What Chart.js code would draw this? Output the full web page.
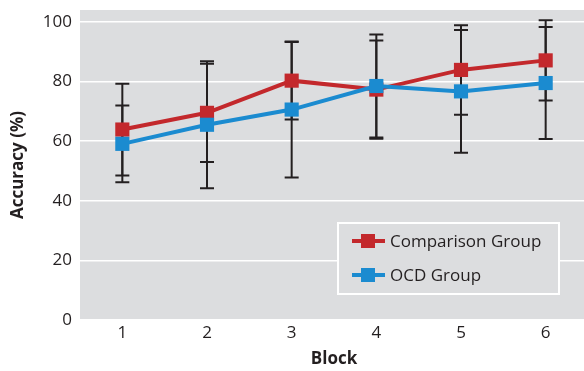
<!DOCTYPE html>
<html>
<head>
<meta charset="utf-8">
<script src="https://cdn.jsdelivr.net/npm/chart.js@4"></script>
<style>
    html, body { margin: 0; padding: 0; background: #ffffff; overflow: hidden; }
    #wrap { width: 598px; height: 371px; }
</style>
</head>
<body>
<div id="wrap"><canvas id="lineChart"></canvas></div>
<script>
// Data
const blocks = ['1', '2', '3', '4', '5', '6'];
const comparisonMean = [63.9, 69.5, 80.3, 77.3, 83.9, 87.1];
const comparisonSd = [15.4, 16.5, 13.0, 16.5, 15.0, 13.5];
const ocdMean = [59.1, 65.5, 70.6, 78.5, 76.7, 79.5];
const ocdSd = [12.9, 21.3, 22.8, 17.3, 20.6, 18.8];
const yTicks = [0, 20, 40, 60, 80, 100];

const red = '#c3282c';
const blue = '#1b8bd0';
const panelGrey = '#dcdddf';
const ink = '#231f20';
const fontName = '"Open Sans", "Noto Sans", sans-serif';

// Grey plot background
const panelBackground = {
    id: 'panelBackground',
    beforeDraw(chart) {
        const { ctx, chartArea } = chart;
        ctx.save();
        ctx.fillStyle = panelGrey;
        ctx.fillRect(chartArea.left, chartArea.top, chartArea.right - chartArea.left, chartArea.bottom - chartArea.top);
        ctx.restore();
    }
};

// Error bars (mean +/- sd), drawn under lines and markers
const errorBars = {
    id: 'errorBars',
    beforeDatasetsDraw(chart) {
        const { ctx } = chart;
        const x = chart.scales.x;
        const y = chart.scales.y;
        const groups = [[comparisonMean, comparisonSd], [ocdMean, ocdSd]];
        ctx.save();
        ctx.strokeStyle = ink;
        ctx.lineWidth = 2;
        groups.forEach(([mean, sd]) => {
            mean.forEach((m, i) => {
                const px = x.getPixelForValue(i);
                const top = y.getPixelForValue(m + sd[i]);
                const bot = y.getPixelForValue(m - sd[i]);
                ctx.beginPath();
                ctx.moveTo(px, top);
                ctx.lineTo(px, bot);
                ctx.moveTo(px - 7, top);
                ctx.lineTo(px + 7, top);
                ctx.moveTo(px - 7, bot);
                ctx.lineTo(px + 7, bot);
                ctx.stroke();
            });
        });
        ctx.restore();
    }
};

// Legend box in the lower right of the panel
const boxLegend = {
    id: 'boxLegend',
    afterDraw(chart) {
        const { ctx } = chart;
        const items = [['Comparison Group', red], ['OCD Group', blue]];
        const left = 338, top = 223, w = 221, h = 71;
        ctx.save();
        ctx.fillStyle = panelGrey;
        ctx.fillRect(left, top, w, h);
        ctx.strokeStyle = '#ffffff';
        ctx.lineWidth = 2;
        ctx.strokeRect(left, top, w, h);
        items.forEach(([label, color], i) => {
            const cy = top + 18 + i * 34;
            ctx.strokeStyle = color;
            ctx.lineWidth = 4;
            ctx.beginPath();
            ctx.moveTo(352, cy);
            ctx.lineTo(385, cy);
            ctx.stroke();
            ctx.fillStyle = color;
            ctx.fillRect(361, cy - 7, 14, 14);
            ctx.fillStyle = ink;
            ctx.font = '17px ' + fontName;
            ctx.textBaseline = 'middle';
            ctx.fillText(label, 390, cy + 1);
        });
        ctx.restore();
    }
};

const lineCtx = document.getElementById('lineChart').getContext('2d');
const lineChartInstance = new Chart(lineCtx, {
    type: 'line',
    data: {
        labels: blocks,
        datasets: [
            {
                label: 'Comparison Group',
                data: comparisonMean,
                borderColor: red,
                backgroundColor: red,
                borderWidth: 4,
                pointStyle: 'rect',
                pointRadius: 10,
                pointBorderWidth: 0,
                order: 1
            },
            {
                label: 'OCD Group',
                data: ocdMean,
                borderColor: blue,
                backgroundColor: blue,
                borderWidth: 4,
                pointStyle: 'rect',
                pointRadius: 10,
                pointBorderWidth: 0,
                order: 0
            }
        ]
    },
    options: {
        responsive: true,
        maintainAspectRatio: false,
        animation: false,
        layout: { padding: { top: 8, right: 0, bottom: 0, left: 0 } },
        plugins: {
            legend: { display: false },
            tooltip: { enabled: false }
        },
        scales: {
            x: {
                type: 'category',
                offset: true,
                afterFit: axis => {
                    axis.height = 51;
                    axis.paddingLeft = 0;
                    axis.paddingRight = 0;
                },
                grid: { display: false, drawTicks: false },
                border: { display: false },
                ticks: { color: ink, font: { family: fontName, size: 17 }, padding: 3 },
                title: { display: true, text: 'Block', color: ink, font: { family: fontName, size: 17, weight: 'bold' }, padding: { top: 0, bottom: 2 } }
            },
            y: {
                min: 0,
                max: 104,
                afterBuildTicks: axis => {
                    axis.ticks = yTicks.map(v => ({ value: v }));
                },
                afterFit: axis => {
                    axis.width = 80;
                    axis.paddingTop = 0;
                    axis.paddingBottom = 0;
                },
                grid: { color: '#ffffff', lineWidth: 1.5, drawTicks: false },
                border: { display: false },
                ticks: { color: ink, font: { family: fontName, size: 17 }, padding: 8 },
                title: { display: true, text: 'Accuracy (%)', color: ink, font: { family: fontName, size: 17, weight: 'bold' }, padding: { top: 8, bottom: 4 } }
            }
        }
    },
    plugins: [panelBackground, errorBars, boxLegend]
});
</script>
</body>
</html>
